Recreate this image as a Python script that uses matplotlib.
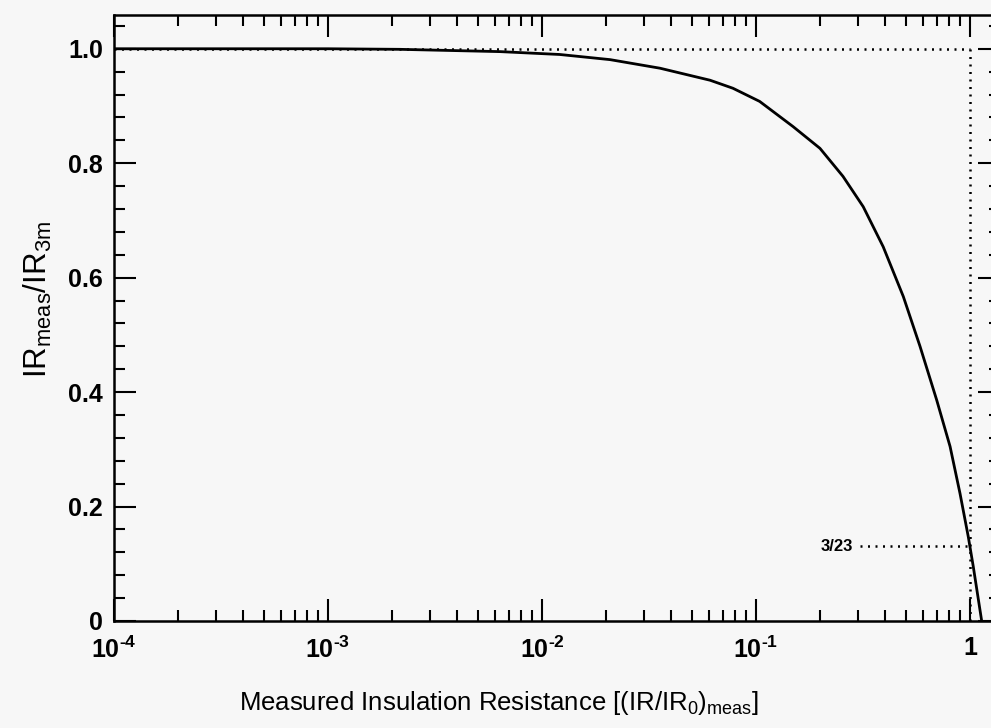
import numpy as np
import matplotlib.pyplot as plt
from matplotlib.ticker import FixedLocator, LogLocator, NullFormatter, MultipleLocator

plt.rcParams['font.family'] = ['Liberation Sans', 'DejaVu Sans']
plt.rcParams['mathtext.fontset'] = 'custom'
plt.rcParams['mathtext.rm'] = 'Liberation Sans'
plt.rcParams['mathtext.it'] = 'Liberation Sans'
plt.rcParams['mathtext.bf'] = 'Liberation Sans:bold'
plt.rcParams['mathtext.default'] = 'regular'

# curve
ir_meas = [1e-4, 1e-3, 0.00217, 0.00637, 0.0121, 0.0208, 0.0356, 0.061, 0.078,
           0.104, 0.149, 0.199, 0.255, 0.317, 0.393, 0.488, 0.584, 0.699,
           0.807, 0.898, 0.982, 1.036, 1.134]
ratio = [1.0, 1.0, 0.999, 0.995, 0.99, 0.981, 0.966, 0.945, 0.931,
         0.908, 0.864, 0.826, 0.777, 0.724, 0.654, 0.567, 0.480, 0.386,
         0.305, 0.223, 0.147, 0.095, 0.0]

mark_x = 1.0
mark_y = 3 / 23
mark_start = 0.305

xticks = [1e-4, 1e-3, 1e-2, 1e-1, 1]
xticklabels = [r'$\mathbf{10^{‐4}}$', r'$\mathbf{10^{‐3}}$', r'$\mathbf{10^{‐2}}$',
               r'$\mathbf{10^{‐1}}$', '1']
yticks = [0, 0.2, 0.4, 0.6, 0.8, 1.0]
yticklabels = ['0', '0.2', '0.4', '0.6', '0.8', '1.0']

bg = '#f7f7f7'
fig = plt.figure(figsize=(9.91, 7.28), dpi=100, facecolor=bg)
ax = fig.add_axes([114/991, 107/728, 886/991, 606/728], facecolor=bg)

ax.plot(ir_meas, ratio, color='black', lw=2)
dots = (0, (0.8, 2.2))
ax.plot([1e-4, mark_x], [1.0, 1.0], color='black', lw=1.8, ls=dots)
ax.plot([mark_x, mark_x], [0, 1.0], color='black', lw=1.8, ls=dots)
ax.plot([mark_start, mark_x], [mark_y, mark_y], color='black', lw=1.8, ls=dots)
ax.text(0.285, mark_y, '3/23', ha='right', va='center', fontsize=12, fontweight='bold')

ax.set_xscale('log')
ax.set_xlim(1e-4, 1.381)
ax.set_ylim(0, 1.059)

ax.xaxis.set_major_locator(FixedLocator(xticks))
ax.set_xticklabels(xticklabels, fontsize=18, fontweight='bold')
ax.xaxis.set_minor_locator(LogLocator(base=10, subs=np.arange(2, 10)))
ax.xaxis.set_minor_formatter(NullFormatter())
ax.set_yticks(yticks)
ax.set_yticklabels(yticklabels, fontsize=18, fontweight='bold')
ax.yaxis.set_minor_locator(MultipleLocator(0.04))

ax.tick_params(which='both', direction='in', top=True, right=True, width=1.5)
ax.tick_params(which='major', length=16)
ax.tick_params(which='minor', length=8)
ax.tick_params(axis='x', which='major', pad=11)
ax.tick_params(axis='y', which='major', pad=8)
for s in ax.spines.values():
    s.set_linewidth(1.8)

ax.set_xlabel('Measured Insulation Resistance [(IR/IR$_0$)$_{meas}$]', fontsize=18.5)
ax.xaxis.set_label_coords(0.435, -0.112)
ax.set_ylabel('IR$_{meas}$/IR$_{3m}$', fontsize=22.5)
ax.yaxis.set_label_coords(-0.068, 0.53)

fig.savefig('out.png', dpi=100, facecolor=bg)
